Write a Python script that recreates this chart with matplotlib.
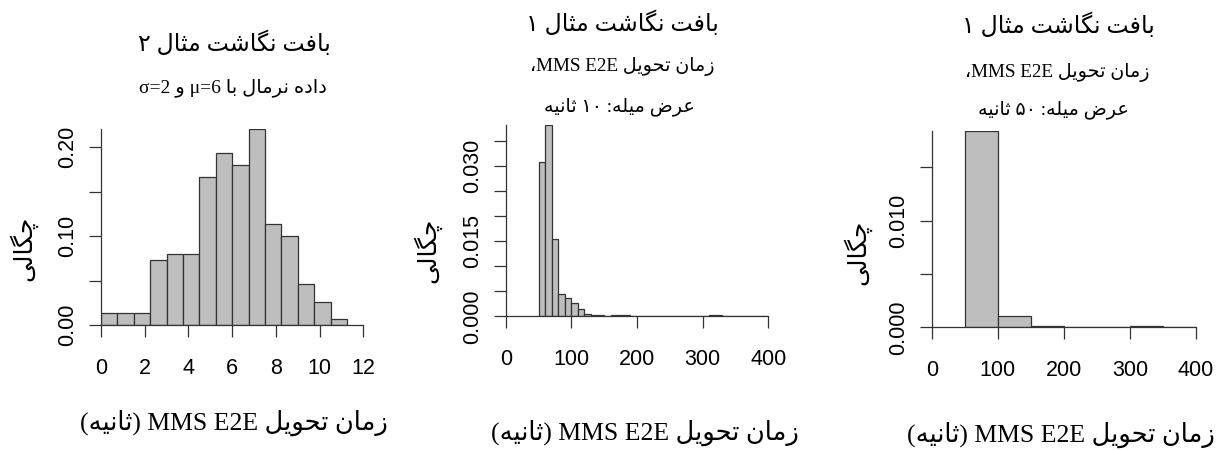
import numpy as np
import matplotlib
matplotlib.use('Agg')
import matplotlib.pyplot as plt

# histogram densities (bar heights) for the three panels
norm_bin_width = 0.75
norm_density = [0.0133, 0.0133, 0.0133, 0.0733, 0.0800, 0.0800, 0.1667, 0.1933,
                0.1800, 0.2200, 0.1133, 0.1000, 0.0467, 0.0267, 0.0067]

mms10_bin_width = 10
mms10_start = 50
mms10_density = [0.0308, 0.0382, 0.0154, 0.0044, 0.0037, 0.0026, 0.0014, 0.0005,
                 0.0003, 0.0003, 0.0001, 0.0002, 0.0002, 0.0003, 0.0001, 0.0001,
                 0.00005, 0.00005, 0.0001, 0.00005, 0.0001, 0.0001, 0.0001, 0.0001,
                 0.00005, 0.0, 0.0003, 0.0003, 0.0001, 0.00005, 0.0001, 0.0001,
                 0.00005, 0.00005, 0.0001]

mms50_bin_width = 50
mms50_start = 50
mms50_density = [0.0184, 0.00105, 0.00016, 0.00004, 0.00004, 0.0001, 0.00003]

title_norm = 'بافت نگاشت مثال ۲'
sub_norm = 'داده نرمال با μ=6 و σ=2'
title_mms = 'بافت نگاشت مثال ۱'
sub_mms = 'زمان تحویل MMS E2E،'
width10 = 'عرض میله: ۱۰ ثانیه'
width50 = 'عرض میله: ۵۰ ثانیه'
xlabel = 'زمان تحویل MMS E2E (ثانیه)'
ylabel = 'چگالی'

# --- minimal Persian shaping + right-to-left ordering for matplotlib ---
# letter: (isolated, final, initial, medial); None = does not join forward
FORMS = {
    'ا': (0xFE8D, 0xFE8E, None, None),
    'ب': (0xFE8F, 0xFE90, 0xFE91, 0xFE92),
    'ت': (0xFE95, 0xFE96, 0xFE97, 0xFE98),
    'ث': (0xFE99, 0xFE9A, 0xFE9B, 0xFE9C),
    'ح': (0xFEA1, 0xFEA2, 0xFEA3, 0xFEA4),
    'د': (0xFEA9, 0xFEAA, None, None),
    'ر': (0xFEAD, 0xFEAE, None, None),
    'ز': (0xFEAF, 0xFEB0, None, None),
    'ش': (0xFEB5, 0xFEB6, 0xFEB7, 0xFEB8),
    'ض': (0xFEBD, 0xFEBE, 0xFEBF, 0xFEC0),
    'ع': (0xFEC9, 0xFECA, 0xFECB, 0xFECC),
    'ف': (0xFED1, 0xFED2, 0xFED3, 0xFED4),
    'ل': (0xFEDD, 0xFEDE, 0xFEDF, 0xFEE0),
    'م': (0xFEE1, 0xFEE2, 0xFEE3, 0xFEE4),
    'ن': (0xFEE5, 0xFEE6, 0xFEE7, 0xFEE8),
    'ه': (0xFEE9, 0xFEEA, 0xFEEB, 0xFEEC),
    'و': (0xFEED, 0xFEEE, None, None),
    'ی': (0xFBFC, 0xFBFD, 0xFBFE, 0xFBFF),
    'گ': (0xFB92, 0xFB93, 0xFB94, 0xFB95),
    'چ': (0xFB7A, 0xFB7B, 0xFB7C, 0xFB7D),
}


def shape(s):
    out = []
    for i, ch in enumerate(s):
        if ch not in FORMS:
            out.append(ch)
            continue
        prev = s[i - 1] if i > 0 else ''
        nxt = s[i + 1] if i + 1 < len(s) else ''
        join_prev = prev in FORMS and FORMS[prev][2] is not None
        join_next = nxt in FORMS and FORMS[ch][2] is not None
        iso, fin, ini, med = FORMS[ch]
        if join_prev and join_next:
            out.append(chr(med))
        elif join_prev:
            out.append(chr(fin))
        elif join_next:
            out.append(chr(ini))
        else:
            out.append(chr(iso))
    return ''.join(out)


def strong(ch):
    o = ord(ch)
    if 0x06F0 <= o <= 0x06F9 or ch.isalnum() and o < 0x0600:
        return 'L'
    if 0x0600 <= o <= 0x06FF or 0xFB50 <= o <= 0xFEFF:
        return 'R'
    return None


def fa(s):
    s = shape(s)
    kinds = [strong(c) for c in s]
    # neutrals take L only when surrounded by L, otherwise the RTL base
    for i, k in enumerate(kinds):
        if k is None:
            left = next((kinds[j] for j in range(i - 1, -1, -1) if strong(s[j])), None)
            right = next((strong(s[j]) for j in range(i + 1, len(s)) if strong(s[j])), None)
            kinds[i] = 'L' if left == 'L' and right == 'L' else 'R'
    runs = []
    for c, k in zip(s, kinds):
        if runs and runs[-1][0] == k:
            runs[-1][1].append(c)
        else:
            runs.append((k, [c]))
    mirror = {'(': ')', ')': '('}
    parts = []
    for k, chars in reversed(runs):
        if k == 'R':
            parts.append(''.join(mirror.get(c, c) for c in reversed(chars)))
        else:
            parts.append(''.join(chars))
    return ''.join(parts)


FA_FONT = ['Liberation Serif', 'DejaVu Sans']
plt.rcParams['font.family'] = ['Liberation Sans', 'DejaVu Sans']

W, H = 1219, 450
fig = plt.figure(figsize=(W / 100, H / 100), dpi=100)


def px_axes(left, right, y0, top):
    return fig.add_axes([left / W, 1 - y0 / H, (right - left) / W, (y0 - top) / H])


def ftext(x, y, s, size, rot=0):
    fig.text(x / W, 1 - y / H, fa(s), ha='center', va='center', fontsize=size,
             family=FA_FONT, rotation=rot)


def hist_panel(ax, left_edges, width, density, xmax, xticks, yticks, ylabels):
    ax.bar(left_edges, density, width=width, align='edge', color='#bebebe',
           edgecolor='#333333', linewidth=0.9)
    ax.set_xlim(0, xmax)
    ax.set_ylim(0, max(density))
    for side in ['top', 'right']:
        ax.spines[side].set_visible(False)
    for side in ['left', 'bottom']:
        ax.spines[side].set_linewidth(0.9)
        ax.spines[side].set_color('#333333')
    ax.set_xticks(xticks)
    ax.set_xticklabels([str(t) for t in xticks])
    ax.set_yticks(yticks)
    ax.set_yticklabels(ylabels, rotation=90, va='center')
    ax.tick_params(direction='out', length=8.5, width=0.9, color='#333333',
                   labelsize=15.5)
    ax.tick_params(axis='x', pad=15)
    ax.tick_params(axis='y', pad=8)


# panel 1: normal data
ax1 = px_axes(101, 363.3, 325.3, 129.3)
norm_left = np.arange(len(norm_density)) * norm_bin_width
hist_panel(ax1, norm_left, norm_bin_width, norm_density, 12,
           [0, 2, 4, 6, 8, 10, 12],
           [0, 0.05, 0.10, 0.15, 0.20], ['0.00', '', '0.10', '', '0.20'])
ftext(234, 43, title_norm, 17)
ftext(233, 88, sub_norm, 14)
ftext(234, 423, xlabel, 18.5)
ftext(23, 248, ylabel, 18, rot=90)

# panel 2: MMS, 10 s bins
ax2 = px_axes(505.7, 768.3, 316.3, 125)
mms10_left = mms10_start + np.arange(len(mms10_density)) * mms10_bin_width
hist_panel(ax2, mms10_left, mms10_bin_width, mms10_density, 400,
           [0, 100, 200, 300, 400],
           [0, 0.005, 0.010, 0.015, 0.020, 0.025, 0.030, 0.035],
           ['0.000', '', '', '0.015', '', '', '0.030', ''])
ftext(622, 23, title_mms, 17)
ftext(622, 67, sub_mms, 13.8)
ftext(619, 107, width10, 13.8)
ftext(645, 433, xlabel, 18.5)
ftext(427, 250, ylabel, 18, rot=90)

# panel 3: MMS, 50 s bins
ax3 = px_axes(931.7, 1196, 327.3, 131)
mms50_left = mms50_start + np.arange(len(mms50_density)) * mms50_bin_width
hist_panel(ax3, mms50_left, mms50_bin_width, mms50_density, 400,
           [0, 100, 200, 300, 400],
           [0, 0.005, 0.010, 0.015], ['0.000', '', '0.010', ''])
ftext(1058, 25, title_mms, 17)
ftext(1057, 72, sub_mms, 13.8)
ftext(1053, 110, width50, 13.8)
ftext(1061, 435, xlabel, 18.5)
ftext(857, 252, ylabel, 18, rot=90)

fig.savefig('out.png', dpi=100)
